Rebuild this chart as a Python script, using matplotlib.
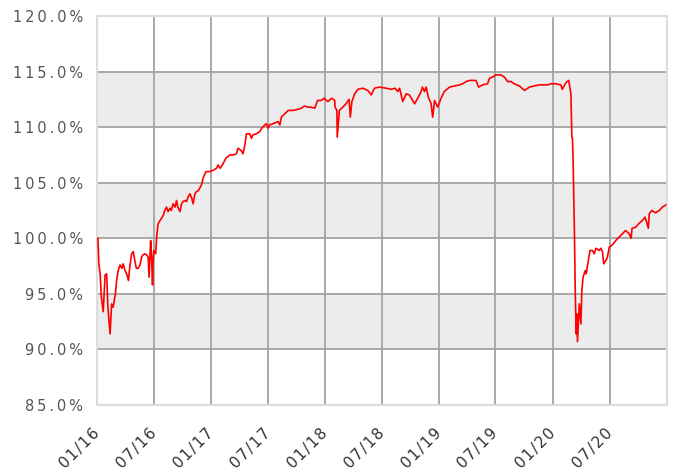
import matplotlib
import matplotlib.pyplot as plt
import matplotlib.transforms as mtransforms
import pandas as pd
from matplotlib.ticker import FuncFormatter, MultipleLocator

matplotlib.use("Agg")

# cumulative performance, percent of starting value
dates_2016 = [
    "2016-01-04", "2016-01-07", "2016-01-11", "2016-01-15", "2016-01-21", "2016-01-27",
    "2016-02-01", "2016-02-05", "2016-02-12", "2016-02-17", "2016-02-22", "2016-02-29",
    "2016-03-04", "2016-03-09", "2016-03-15", "2016-03-21", "2016-03-25", "2016-03-31",
    "2016-04-05", "2016-04-11", "2016-04-15", "2016-04-21", "2016-04-26", "2016-05-02",
    "2016-05-06", "2016-05-12", "2016-05-18", "2016-05-23", "2016-05-27", "2016-06-03",
    "2016-06-08", "2016-06-13", "2016-06-16", "2016-06-21", "2016-06-24", "2016-06-27",
    "2016-06-29", "2016-07-01", "2016-07-07", "2016-07-11", "2016-07-15", "2016-07-21",
    "2016-07-26", "2016-08-01", "2016-08-05", "2016-08-11", "2016-08-16", "2016-08-22",
    "2016-08-26", "2016-09-01", "2016-09-07", "2016-09-12", "2016-09-16", "2016-09-23",
    "2016-09-28", "2016-10-03", "2016-10-10", "2016-10-14", "2016-10-19", "2016-10-25",
    "2016-10-31", "2016-11-04", "2016-11-10", "2016-11-15", "2016-11-21", "2016-11-25",
    "2016-12-01", "2016-12-06", "2016-12-12", "2016-12-16", "2016-12-28",
]
values_2016 = [
    100.0, 97.7, 96.8, 94.7, 93.4, 96.7,
    96.8, 93.8, 91.4, 94.1, 93.8, 95.0,
    96.2, 97.1, 97.6, 97.3, 97.7, 97.1,
    96.8, 96.2, 97.4, 98.6, 98.8, 97.9,
    97.3, 97.3, 97.6, 98.3, 98.5, 98.6,
    98.5, 98.3, 96.5, 99.8, 98.3, 95.8,
    98.0, 98.9, 98.6, 100.4, 101.3, 101.6,
    101.8, 102.1, 102.5, 102.8, 102.4, 102.7,
    102.5, 103.1, 102.8, 103.4, 102.8, 102.4,
    103.1, 103.3, 103.4, 103.3, 103.7, 104.0,
    103.6, 103.1, 104.0, 104.2, 104.3, 104.5,
    104.8, 105.4, 105.8, 106.0, 106.0,
]

dates_2017 = [
    "2017-01-06", "2017-01-18", "2017-01-23", "2017-01-30", "2017-02-08", "2017-02-17",
    "2017-03-02", "2017-03-13", "2017-03-23", "2017-03-28", "2017-04-07", "2017-04-13",
    "2017-04-19", "2017-04-24", "2017-05-05", "2017-05-10", "2017-05-15", "2017-05-26",
    "2017-06-06", "2017-06-12", "2017-06-22", "2017-06-27", "2017-07-03", "2017-07-07",
    "2017-07-18", "2017-08-03", "2017-08-09", "2017-08-14", "2017-08-25", "2017-09-05",
    "2017-09-20", "2017-10-06", "2017-10-17", "2017-10-27", "2017-11-07", "2017-11-17",
    "2017-11-29", "2017-12-04", "2017-12-08", "2017-12-20", "2017-12-29",
]
values_2017 = [
    106.1, 106.3, 106.6, 106.3, 106.7, 107.2,
    107.5, 107.5, 107.6, 108.1, 107.9, 107.6,
    108.4, 109.4, 109.4, 109.0, 109.3, 109.4,
    109.6, 109.9, 110.2, 110.3, 109.9, 110.2,
    110.3, 110.5, 110.2, 110.9, 111.2, 111.5,
    111.5, 111.6, 111.7, 111.9, 111.8, 111.8,
    111.7, 112.1, 112.4, 112.4, 112.6,
]

dates_2018 = [
    "2018-01-10", "2018-01-22", "2018-02-01", "2018-02-02", "2018-02-08", "2018-02-09",
    "2018-02-16", "2018-02-27", "2018-03-09", "2018-03-19", "2018-03-23", "2018-03-28",
    "2018-04-06", "2018-04-16", "2018-05-02", "2018-05-18", "2018-05-29", "2018-06-08",
    "2018-06-25", "2018-07-16", "2018-08-01", "2018-08-13", "2018-08-22", "2018-08-28",
    "2018-09-07", "2018-09-18", "2018-09-28", "2018-10-15", "2018-10-25", "2018-11-05",
    "2018-11-09", "2018-11-16", "2018-11-21", "2018-11-28", "2018-12-07", "2018-12-12",
    "2018-12-18", "2018-12-28",
]
values_2018 = [
    112.3, 112.6, 112.4, 111.8, 111.5, 109.1,
    111.5, 111.8, 112.1, 112.5, 110.9, 112.3,
    113.0, 113.4, 113.5, 113.3, 112.9, 113.5,
    113.6, 113.5, 113.4, 113.5, 113.2, 113.5,
    112.3, 113.0, 112.9, 112.1, 112.6, 113.2,
    113.6, 113.2, 113.6, 112.7, 112.1, 110.9,
    112.4, 111.8,
]

dates_2019 = [
    "2019-01-08", "2019-01-18", "2019-02-04", "2019-02-20", "2019-03-08", "2019-03-18",
    "2019-03-29", "2019-04-09", "2019-04-30", "2019-05-08", "2019-05-21", "2019-06-06",
    "2019-06-12", "2019-06-21", "2019-07-03", "2019-07-19", "2019-07-30", "2019-08-09",
    "2019-08-20", "2019-08-30", "2019-09-16", "2019-10-02", "2019-10-18", "2019-11-01",
    "2019-11-19", "2019-12-05", "2019-12-16", "2019-12-26",
]
values_2019 = [
    112.6, 113.2, 113.6, 113.7, 113.8, 113.9,
    114.1, 114.2, 114.2, 113.6, 113.8, 113.9,
    114.4, 114.5, 114.7, 114.7, 114.5, 114.1,
    114.1, 113.9, 113.7, 113.3, 113.6, 113.7,
    113.8, 113.8, 113.8, 113.9,
]

dates_2020 = [
    "2020-01-10", "2020-01-27", "2020-01-31", "2020-02-12", "2020-02-21", "2020-02-28",
    "2020-03-02", "2020-03-04", "2020-03-06", "2020-03-10", "2020-03-13", "2020-03-16",
    "2020-03-18", "2020-03-20", "2020-03-26", "2020-03-31", "2020-04-03", "2020-04-07",
    "2020-04-14", "2020-04-17", "2020-04-24", "2020-04-29", "2020-05-07", "2020-05-13",
    "2020-05-18", "2020-05-29", "2020-06-03", "2020-06-08", "2020-06-12", "2020-06-19",
    "2020-06-24", "2020-06-30", "2020-07-10", "2020-07-21", "2020-07-31", "2020-08-11",
    "2020-08-21", "2020-09-02", "2020-09-08", "2020-09-11", "2020-09-23", "2020-10-02",
    "2020-10-14", "2020-10-23", "2020-11-02", "2020-11-05", "2020-11-13", "2020-11-25",
    "2020-12-07", "2020-12-17", "2020-12-28",
]
values_2020 = [
    113.9, 113.8, 113.4, 114.0, 114.2, 113.0,
    109.1, 109.0, 107.0, 101.0, 95.0, 91.4,
    93.2, 90.7, 94.1, 92.3, 95.3, 96.5,
    97.1, 96.8, 98.0, 98.9, 98.9, 98.6,
    99.1, 98.9, 99.1, 98.8, 97.7, 98.0,
    98.3, 99.2, 99.4, 99.8, 100.1, 100.4,
    100.7, 100.4, 100.0, 100.9, 101.0, 101.3,
    101.6, 101.9, 100.9, 102.2, 102.5, 102.3,
    102.5, 102.8, 103.0,
]

dates = pd.to_datetime(dates_2016 + dates_2017 + dates_2018 + dates_2019 + dates_2020)
values = values_2016 + values_2017 + values_2018 + values_2019 + values_2020

x_ticks = pd.date_range("2016-01-01", "2020-07-01", freq="6MS")
white_bands = [(85, 90), (95, 100), (105, 110), (115, 120)]

Y_TEXT = "#555555"
X_TEXT = "#333333"
GRID = "#a3a3a3"
BAND = "#ececec"


def spaced(s, gap):
    # widen the lettering a little, Verdana-style
    return gap.join(s)


fig = plt.figure(figsize=(6.73, 4.71), dpi=100)
ax = fig.add_axes([0.1441, 0.1401, 0.847, 0.826], facecolor=BAND)

ax.set_xlim(pd.Timestamp("2016-01-01"), pd.Timestamp("2021-01-01"))
ax.set_ylim(85, 120)

# rows alternate white / light grey
band_tf = ax.get_yaxis_transform()
for lo, hi in white_bands:
    ax.add_patch(plt.Rectangle((0, lo), 1, hi - lo, transform=band_tf,
                               facecolor="white", edgecolor="none", zorder=0))

ax.plot(dates, values, color="#ff0000", lw=1.2, zorder=3)

ax.yaxis.set_major_locator(MultipleLocator(5))
ax.yaxis.set_major_formatter(FuncFormatter(lambda v, _: spaced(f"{v:.1f}%", "\u2009")))
ax.set_xticks(x_ticks)
ax.set_xticklabels([spaced(d.strftime("%m/%y"), "\u200a") for d in x_ticks])

ax.grid(True, color=GRID, lw=1.3, zorder=1)
ax.set_axisbelow(True)
for s in ax.spines.values():
    s.set_color("#dddddd")
    s.set_linewidth(1.5)

ax.tick_params(axis="both", length=0)
ax.tick_params(axis="y", pad=10, colors=Y_TEXT, labelsize=10.5)
ax.tick_params(axis="x", pad=15, colors=X_TEXT, labelsize=11)
shift = mtransforms.ScaledTranslation(-5 / 100, 0, fig.dpi_scale_trans)
for lbl in ax.get_xticklabels():
    lbl.set_rotation(45)
    lbl.set_ha("right")
    lbl.set_rotation_mode("anchor")
    lbl.set_transform(lbl.get_transform() + shift)

fig.savefig("out.png", dpi=100)
